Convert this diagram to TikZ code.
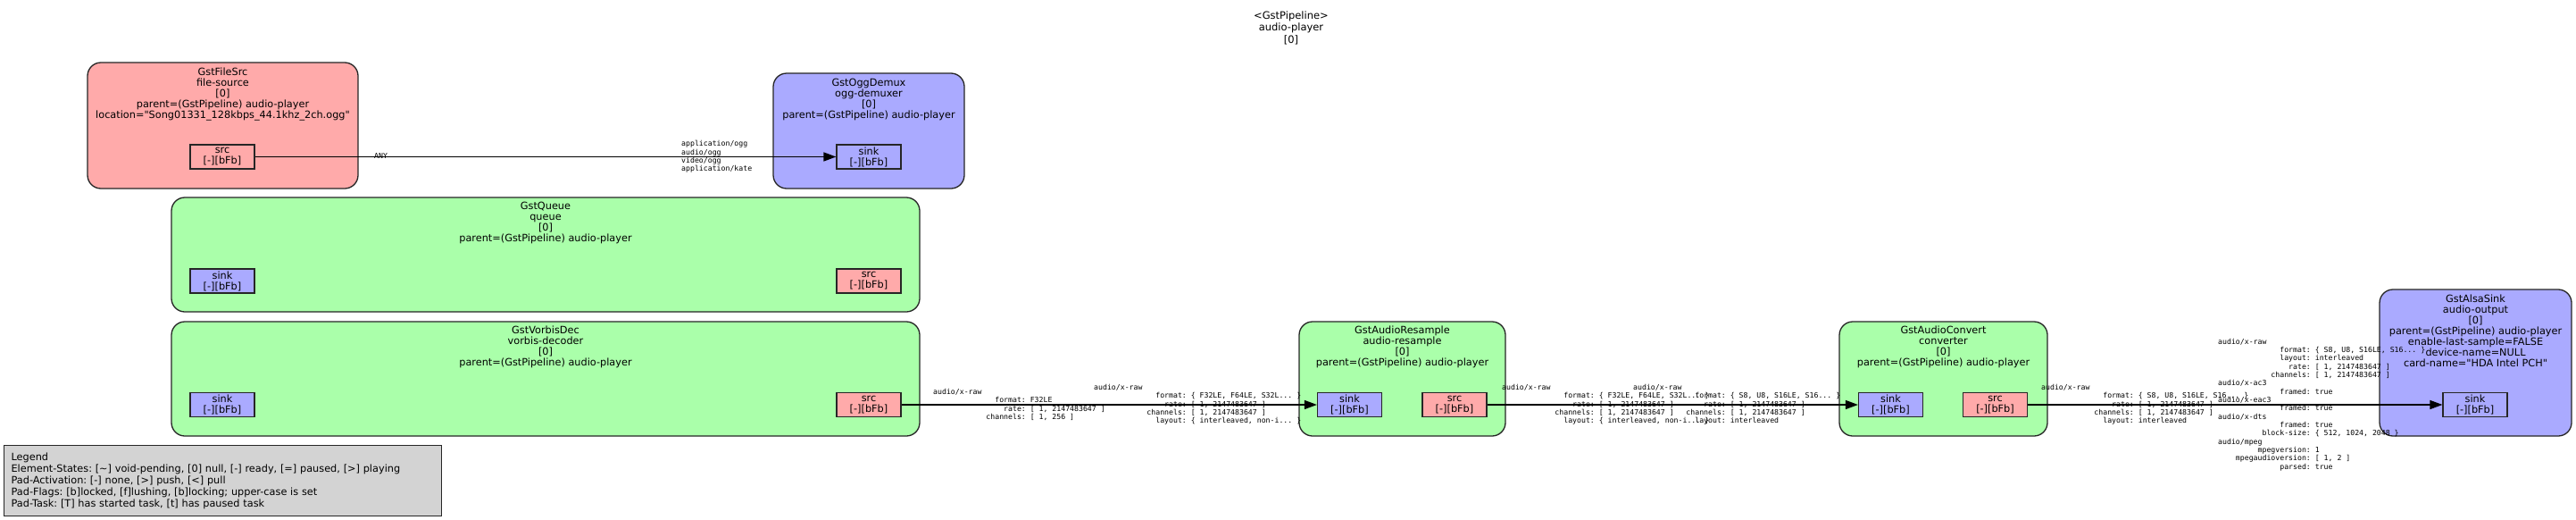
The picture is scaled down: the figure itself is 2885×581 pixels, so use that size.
\documentclass[tikz,border=0pt]{standalone}
\usepackage{fontspec}
\newfontfamily\dvfam{DejaVu Sans}
\newfontfamily\dvmfam{DejaVu Sans Mono}
\usetikzlibrary{arrows.meta}
\definecolor{srcc}{HTML}{FFAAAA}
\definecolor{sinkc}{HTML}{AAAAFF}
\definecolor{filtc}{HTML}{AAFFAA}
\definecolor{legc}{HTML}{D3D3D3}
\newlength\capw
\setlength\capw{4.9364pt}
\newcommand\capf[2]{\hbox to 20\capw{\hfil #1}: #2}
\newcommand\etfont{\dvfam\fontsize{11.3}{12}\selectfont}
\newcommand\legfont{\dvfam\fontsize{11.3}{13}\selectfont}
\newcommand\ttlfont{\dvfam\fontsize{11.5}{13.5}\selectfont}
\newcommand\capsfont{\dvmfam\fontsize{8.2}{9.33}\selectfont}
\frenchspacing
\begin{document}
\frenchspacing
\begin{tikzpicture}[x=1pt,y=-1pt,
  elem/.style={draw=black!85, line width=1.3pt, rounded corners=15pt, inner sep=0pt},
  etext/.style={font=\etfont, align=center, inner sep=0pt},
  pad/.style={draw=black!85, line width=1.2pt, minimum width=72pt, minimum height=27pt, inner sep=0pt, align=center, font=\etfont},
  caps/.style={anchor=west, inner sep=0pt, align=left, font=\capsfont},
  edge/.style={draw=black, line width=1.3pt, -{Triangle[length=14pt,width=10pt]}},
  legendbox/.style={draw=black!85, fill=legc, line width=1.2pt, align=left, text width=474pt, minimum height=79pt, inner xsep=8pt, inner ysep=0pt, font=\legfont, anchor=north west}]
\path[fill=white, use as bounding box] (0,0) rectangle (2885,581);

% title
\node[inner sep=0pt, align=center, font=\ttlfont] (title) at (1446,31) {<GstPipeline>\\audio-player\\{}[0]};

% elements
\node[elem, fill=srcc, minimum width=303pt, minimum height=141pt] (fsrc) at (249.5,140.5) {};
\node[etext] (fsrc-t) at (249.5,105.5) {GstFileSrc\\file-source\\{}[0]\\parent=(GstPipeline) audio-player\\location="Song01331\_128kbps\_44.1khz\_2ch.ogg"};
\node[pad, fill=srcc] (fsrc-src) at (249,175.5) {src\\{}[-][bFb]};

\node[elem, fill=sinkc, minimum width=214pt, minimum height=129pt] (demux) at (973,146.5) {};
\node[etext] (demux-t) at (973,111) {GstOggDemux\\ogg-demuxer\\{}[0]\\parent=(GstPipeline) audio-player};
\node[pad, fill=sinkc] (demux-sink) at (973,175.5) {sink\\{}[-][bFb]};

\node[elem, fill=filtc, minimum width=838pt, minimum height=128pt] (queue) at (611,285) {};
\node[etext] (queue-t) at (611,249) {GstQueue\\queue\\{}[0]\\parent=(GstPipeline) audio-player};
\node[pad, fill=sinkc] (queue-sink) at (249,314.5) {sink\\{}[-][bFb]};
\node[pad, fill=srcc] (queue-src) at (973,314.5) {src\\{}[-][bFb]};

\node[elem, fill=filtc, minimum width=838pt, minimum height=128pt] (vorbis) at (611,424) {};
\node[etext] (vorbis-t) at (611,388.5) {GstVorbisDec\\vorbis-decoder\\{}[0]\\parent=(GstPipeline) audio-player};
\node[pad, fill=sinkc] (vorbis-sink) at (249,453) {sink\\{}[-][bFb]};
\node[pad, fill=srcc] (vorbis-src) at (973,453) {src\\{}[-][bFb]};

\node[elem, fill=filtc, minimum width=231pt, minimum height=128pt] (resample) at (1570.5,424) {};
\node[etext] (resample-t) at (1570.5,388.5) {GstAudioResample\\audio-resample\\{}[0]\\parent=(GstPipeline) audio-player};
\node[pad, fill=sinkc] (resample-sink) at (1511.5,453) {sink\\{}[-][bFb]};
\node[pad, fill=srcc] (resample-src) at (1629,453) {src\\{}[-][bFb]};

\node[elem, fill=filtc, minimum width=233pt, minimum height=128pt] (convert) at (2176.5,424) {};
\node[etext] (convert-t) at (2176.5,388.5) {GstAudioConvert\\converter\\{}[0]\\parent=(GstPipeline) audio-player};
\node[pad, fill=sinkc] (convert-sink) at (2117.5,453) {sink\\{}[-][bFb]};
\node[pad, fill=srcc] (convert-src) at (2234.5,453) {src\\{}[-][bFb]};

\node[elem, fill=sinkc, minimum width=215pt, minimum height=164pt] (alsa) at (2772.5,406) {};
\node[etext] (alsa-t) at (2772.5,370) {GstAlsaSink\\audio-output\\{}[0]\\parent=(GstPipeline) audio-player\\enable-last-sample=FALSE\\device-name=NULL\\card-name="HDA Intel PCH"};
\node[pad, fill=sinkc] (alsa-sink) at (2772,453) {sink\\{}[-][bFb]};

% edges
\draw[edge] (fsrc-src) -- (demux-sink);
\draw[edge] (vorbis-src) -- (resample-sink);
\draw[edge] (resample-src) -- (convert-sink);
\draw[edge] (convert-src) -- (alsa-sink);

% caps labels
\node[caps] (e1t) at (419,175) {ANY};
\node[caps] (e1h) at (763,175.5) {application/ogg\\audio/ogg\\video/ogg\\application/kate};

\node[caps] (e3t) at (1045,453) {audio/x-raw\\\capf{format}{F32LE}\\\capf{rate}{[ 1, 2147483647 ]}\\\capf{channels}{[ 1, 256 ]}};
\node[caps] (e3h) at (1225,453) {audio/x-raw\\\capf{format}{\{ F32LE, F64LE, S32L... \}}\\\capf{rate}{[ 1, 2147483647 ]}\\\capf{channels}{[ 1, 2147483647 ]}\\\capf{layout}{\{ interleaved, non-i... \}}};

\node[caps] (e4t) at (1682,453) {audio/x-raw\\\capf{format}{\{ F32LE, F64LE, S32L... \}}\\\capf{rate}{[ 1, 2147483647 ]}\\\capf{channels}{[ 1, 2147483647 ]}\\\capf{layout}{\{ interleaved, non-i... \}}};
\node[caps] (e4h) at (1829,453) {audio/x-raw\\\capf{format}{\{ S8, U8, S16LE, S16... \}}\\\capf{rate}{[ 1, 2147483647 ]}\\\capf{channels}{[ 1, 2147483647 ]}\\\capf{layout}{interleaved}};

\node[caps] (e5t) at (2286,453) {audio/x-raw\\\capf{format}{\{ S8, U8, S16LE, S16... \}}\\\capf{rate}{[ 1, 2147483647 ]}\\\capf{channels}{[ 1, 2147483647 ]}\\\capf{layout}{interleaved}};
\node[caps] (e5h) at (2484,453) {audio/x-raw\\\capf{format}{\{ S8, U8, S16LE, S16... \}}\\\capf{layout}{interleaved}\\\capf{rate}{[ 1, 2147483647 ]}\\\capf{channels}{[ 1, 2147483647 ]}\\audio/x-ac3\\\capf{framed}{true}\\audio/x-eac3\\\capf{framed}{true}\\audio/x-dts\\\capf{framed}{true}\\\capf{block-size}{\{ 512, 1024, 2048 \}}\\audio/mpeg\\\capf{mpegversion}{1}\\\capf{mpegaudioversion}{[ 1, 2 ]}\\\capf{parsed}{true}};

% legend
\node[legendbox] (legend) at (4,498) {Legend\\Element-States: [\textasciitilde] void-pending, [0] null, [-] ready, [=] paused, [>] playing\\Pad-Activation: [-] none, [>] push, [<] pull\\Pad-Flags: [b]locked, [f]lushing, [b]locking; upper-case is set\\Pad-Task: [T] has started task, [t] has paused task};
\end{tikzpicture}
\end{document}
